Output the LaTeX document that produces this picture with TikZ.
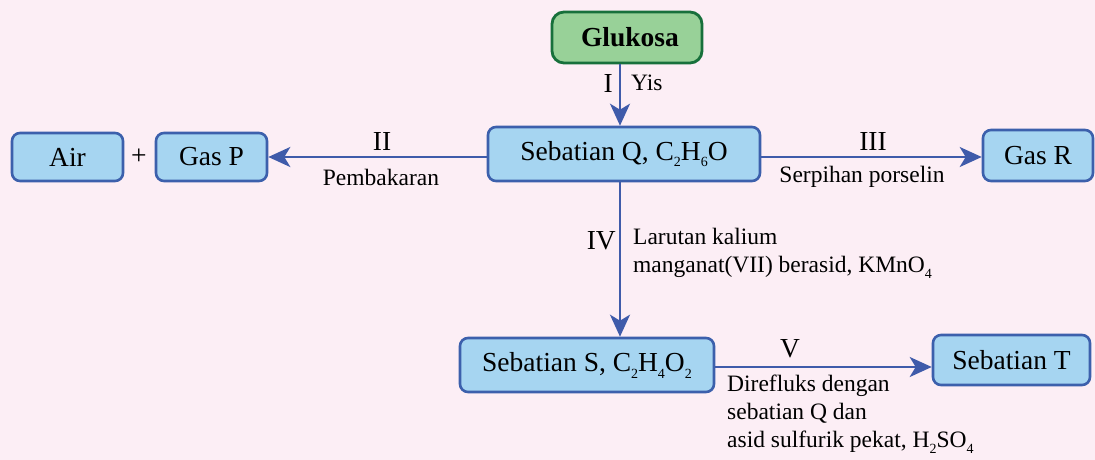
\documentclass[tikz,border=0pt]{standalone}
\usepackage{fontspec}
\setmainfont{Liberation Serif}
\usetikzlibrary{arrows.meta,calc}
\definecolor{bgpink}{HTML}{FCEEF5}
\definecolor{boxblue}{HTML}{A6D5F1}
\definecolor{edgeblue}{HTML}{3C60AC}
\definecolor{arrblue}{HTML}{3F5BAA}
\definecolor{boxgreen}{HTML}{98D198}
\definecolor{edgegreen}{HTML}{17703B}
\newcommand{\chsub}[1]{\raisebox{-0.55ex}{\fontsize{14}{14}\selectfont #1}}
\tikzset{
  bigtext/.style={font=\fontsize{27.5}{30}\selectfont},
  smalltext/.style={font=\fontsize{23.5}{28}\selectfont},
  bluebox/.style={draw=edgeblue, fill=boxblue, line width=2.6pt, rounded corners=8pt,
    inner sep=0pt, bigtext},
  greenbox/.style={draw=edgegreen, fill=boxgreen, line width=2.8pt, rounded corners=12pt,
    inner sep=0pt, font=\fontsize{27.5}{30}\selectfont\bfseries},
  arr/.style={draw=arrblue, line width=2.6pt, -{Stealth[length=22pt,width=20pt,inset=6pt]}},
}
\begin{document}
\begin{tikzpicture}[x=1pt,y=-1pt]
\useasboundingbox (0,0) rectangle (1095,460);
\fill[bgpink] (0,0) rectangle (1095,460);

\coordinate (axis) at (620,0);
\coordinate (row) at (0,157);
\coordinate (vrow) at (0,367);

\node[greenbox, minimum width=150pt, minimum height=51pt] (glu) at (627,37.5) {\hspace{6pt}Glukosa};
\node[bluebox, minimum width=272pt, minimum height=54pt] (Q) at (624,154) {Sebatian Q, C\chsub{2}H\chsub{6}O};
\node[bluebox, minimum width=111pt, minimum height=48pt] (air) at (67.5,157) {Air};
\node[bigtext] (plus) at (139,157) {+};
\node[bluebox, minimum width=111pt, minimum height=48pt] (gasP) at (211.5,157) {Gas P};
\node[bluebox, minimum width=110pt, minimum height=51pt] (gasR) at (1038,155.5) {Gas R};
\node[bluebox, minimum width=254pt, minimum height=54pt] (S) at (587,365) {Sebatian S, C\chsub{2}H\chsub{4}O\chsub{2}};
\node[bluebox, minimum width=157pt, minimum height=50pt] (T) at (1011.5,360) {Sebatian T};

\draw[arr] (glu.south -| axis) -- (Q.north -| axis);
\draw[arr] (Q.west |- row) -- (gasP.east |- row);
\draw[arr] (Q.east |- row) -- (gasR.west |- row);
\draw[arr] (Q.south -| axis) -- (S.north -| axis);
\draw[arr] (S.east |- vrow) -- (T.west |- vrow);

\node[bigtext, anchor=east, inner sep=0pt] (l1) at (613,83) {I};
\node[smalltext, anchor=west, inner sep=0pt] (l1b) at (631,83) {Yis};
\node[bigtext] (l2) at (382,141) {II};
\node[smalltext] (l2b) at (381,177) {Pembakaran};
\node[bigtext] (l3) at (873,141) {III};
\node[smalltext] (l3b) at (862,177) {Serpihan porselin};
\node[bigtext, anchor=east, inner sep=0pt] (l4) at (616,241) {IV};
\node[smalltext, anchor=north west, align=left, inner sep=0pt] (l4b) at (633,228)
  {Larutan kalium\\manganat(VII) berasid, KMnO\chsub{4}};
\node[bigtext] (l5) at (790,349) {V};
\node[smalltext, anchor=north west, align=left, inner sep=0pt] (l5b) at (727,375)
  {Direfluks dengan\\sebatian Q dan\\asid sulfurik pekat, H\chsub{2}SO\chsub{4}};
\end{tikzpicture}
\end{document}
